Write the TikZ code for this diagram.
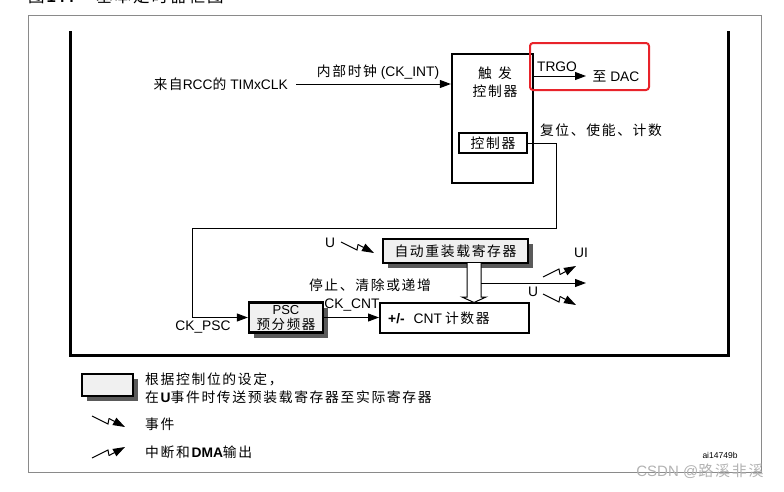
\documentclass[tikz,border=0pt]{standalone}
\usepackage{fontspec}
\setmainfont{Liberation Sans}
\newfontfamily\cjk{Noto Sans CJK SC}[LetterSpace=12]
\usetikzlibrary{arrows.meta,shadows}
\newcommand\cj[1]{{\cjk #1}}
\definecolor{boxfill}{HTML}{F0F0F0}
\definecolor{shadowc}{HTML}{5A5A5A}
\definecolor{framegray}{HTML}{8A8A8A}
\definecolor{hl}{HTML}{E8232A}
\newcommand\evdown[1]{%
  \draw[conn,shift={#1}] (0,0) -- (16,8) -- (17,2.5);
  \draw[conn,shift={#1},-{Triangle[length=12pt,width=8pt]}] (17,2.5) -- (33,11);}
\newcommand\evup[1]{%
  \draw[conn,shift={#1}] (0,0) -- (16,-8) -- (17,-2.5);
  \draw[conn,shift={#1},-{Triangle[length=12pt,width=8pt]}] (17,-2.5) -- (33,-11);}
\begin{document}
\begin{tikzpicture}[x=1pt,y=-1pt,
  every node/.style={font=\fontsize{13.8}{15}\selectfont, inner sep=0pt},
  conn/.style={line width=1pt},
  arr/.style={conn,-{Triangle[length=11pt,width=8pt]}},
  thickbox/.style={draw, line width=2.3pt},
  shadowbox/.style={thickbox, fill=boxfill,
    drop shadow={shadow xshift=5pt, shadow yshift=-5pt, fill=shadowc, opacity=1}},
  line join=miter]
\useasboundingbox (0,0) rectangle (784,491);

% title (cut off at the top, as in the reference)
\node[anchor=base west, font=\fontsize{16.5}{18}\selectfont] (title) at (28,2)
  {\cj{图}\textbf{144}\hspace{22pt}\cj{基本定时器框图}};

% frames
\draw[framegray, line width=1pt] (28,15) rectangle (761,472);
\draw[line width=3pt] (70,31) -- (70,355) -- (728,355) -- (728,31);

% trigger controller
\node[thickbox, minimum width=81pt, minimum height=129pt] (tc) at (492.5,118.5) {};
\node[align=center, font=\fontsize{13.8}{18}\selectfont] (tclab) at (495,82)
  {\cj{触\hspace{0.45em}发}\\\cj{控制器}};
\node[thickbox, line width=2pt, minimum width=68pt, minimum height=20pt] (ctrl) at (493,143) {\cj{控制器}};

% clock input
\node[anchor=east] (clkin) at (288,84) {\cj{来自}RCC\cj{的} TIMxCLK};
\coordinate (clkS) at (296,84);
\draw[arr] (clkS) -- (clkS -| tc.west);
\node (ckint) at (378,72) {\cj{内部时钟} (CK\_INT)};

% TRGO
\coordinate (trgoE) at (586,76);
\draw[arr] (tc.east |- trgoE) -- (trgoE);
\node (trgo) at (557,67) {TRGO};
\node (dac) at (616,76) {\cj{至} DAC};
\draw[hl, line width=2pt, rounded corners=3pt] (530,43) rectangle (649,90);
\node (rst) at (601,130) {\cj{复位、使能、计数}};

% prescaler
\node[shadowbox, minimum width=74pt, minimum height=30pt] (psc) at (286,317.5) {};
\node[font=\fontsize{13}{13}\selectfont] (psclab1) at (286,310.5) {PSC};
\node[font=\fontsize{13.5}{13.5}\selectfont] (psclab2) at (286,324) {\cj{预分频器}};
\coordinate (c1) at (556,228);
\coordinate (c2) at (192,317.5);
\draw[arr] (ctrl.east) -| (c1) -| (c2) -- (psc.west);
\node (ckpsc) at (203,327) {CK\_PSC};

% counter
\node[draw, line width=2pt, minimum width=149pt, minimum height=30pt] (cnt) at (454.5,317.5) {};
\node[anchor=west] (cntlab) at (388,318) {\textbf{+/-}\hspace{9pt}CNT\hspace{3pt}\cj{计数器}};
\draw[arr] (psc.east) -- (cnt.west);
\node (ckcnt) at (352,305) {CK\_CNT};

% auto-reload register
\node[shadowbox, minimum width=145pt, minimum height=24pt] (arrreg) at (455.5,251) {\cj{自动重装载寄存器}};
\draw[conn, fill=white] (467,263) -- (467,297) -- (462,297) -- (474,302.5) -- (486,297) -- (481,297) -- (481,263);
\coordinate (uS) at (481,283);
\coordinate (uE) at (586,283);
\draw[arr] (uS) -- (uE);
\node (uI) at (581,253) {UI};
\node (u2) at (533,292) {U};
\node (u1) at (330,243) {U};
\node (stop) at (370,285) {\cj{停止、清除或递增}};
\evdown{(341,242)}
\evup{(543,277)}
\evdown{(543,294)}

% legend
\node[shadowbox, minimum width=51pt, minimum height=22pt] (leg) at (107.5,385) {};
\node[anchor=west] (leg1) at (145,379) {\cj{根据控制位的设定，}};
\node[anchor=west] (leg2) at (145,397) {\cj{在}\textbf{U}\cj{事件时传送预装载寄存器至实际寄存器}};
\evdown{(92,416)}
\node[anchor=west] (leg3) at (145,424) {\cj{事件}};
\evup{(92,458)}
\node[anchor=west] (leg4) at (145,452) {\cj{中断和}\textbf{DMA}\cj{输出}};

\node (ai) at (720,455) [font=\fontsize{8.5}{10}\selectfont] {ai14749b};
\node (wm) at (700,471) [text=gray!60, font=\fontsize{15}{16}\selectfont] {CSDN @\cj{路溪非溪}};
\end{tikzpicture}
\end{document}
